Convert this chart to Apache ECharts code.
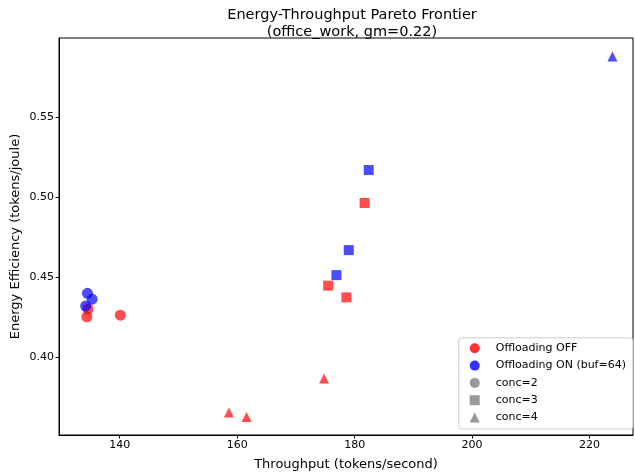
<!DOCTYPE html>
<html>
<head>
<meta charset="utf-8">
<script src="https://cdn.jsdelivr.net/npm/echarts@6/dist/echarts.min.js"></script>
<style>html,body{margin:0;padding:0;background:#fff}#c{width:635px;height:475px}</style>
</head>
<body>
<div id="c"></div>
<script>
// Data: [throughput, efficiency]
const offConc2 = [[134.4, 0.4254], [134.6, 0.4302], [140.1, 0.4264]];
const offConc3 = [[181.7, 0.4964], [175.5, 0.4448], [178.6, 0.4375]];
const offConc4 = [[174.8, 0.3869], [158.6, 0.3656], [161.6, 0.3629]];
const onConc2 = [[134.5, 0.4400], [135.3, 0.4364], [134.2, 0.4321]];
const onConc3 = [[182.4, 0.5170], [179.0, 0.4670], [176.9, 0.4514]];
const onConc4 = [[223.9, 0.5879]];
const xTicks = [140, 160, 180, 200, 220];
const yTicks = [0.40, 0.45, 0.50, 0.55];
const legendNames = ['Offloading OFF', 'Offloading ON (buf=64)', 'conc=2', 'conc=3', 'conc=4'];

const FONT = 'DejaVu Sans';
const RED = '#ff0000';
const BLUE = '#0000ff';
const SHAPES = {2: 'circle', 3: 'rect', 4: 'triangle'};
const SIZES = {2: 11, 3: 10, 4: 10};

function dataSeries(name, data, color, conc) {
  return {
    name: name, type: 'scatter', data: data,
    symbol: SHAPES[conc], symbolSize: SIZES[conc],
    itemStyle: {color: color, opacity: 0.7},
    emphasis: {disabled: true}, z: 3
  };
}
function legendSeries(name, color, shape) {
  return {name: name, type: 'scatter', data: [], symbol: shape, itemStyle: {color: color}};
}

const chart = echarts.init(document.getElementById('c'), null, {renderer: 'canvas'});
chart.setOption({
  animation: false,
  backgroundColor: '#fff',
  title: {
    text: 'Energy-Throughput Pareto Frontier\n(office_work, gm=0.22)',
    left: 347, top: 2, textAlign: 'center',
    textStyle: {fontFamily: FONT, fontSize: 14.5, fontWeight: 'normal', color: '#000', lineHeight: 16.5}
  },
  grid: {left: 59, right: 2, top: 38, bottom: 40, containLabel: false, outerBoundsMode: 'none',
    show: true, borderColor: '#000', borderWidth: 1, backgroundColor: 'transparent'},
  legend: {
    data: [
      {name: legendNames[0], icon: 'circle', itemStyle: {color: '#ff0000'}},
      {name: legendNames[1], icon: 'circle', itemStyle: {color: '#0000ff'}},
      {name: legendNames[2], icon: 'circle', itemStyle: {color: '#808080'}},
      {name: legendNames[3], icon: 'rect', itemStyle: {color: '#808080'}},
      {name: legendNames[4], icon: 'triangle', itemStyle: {color: '#808080'}}
    ],
    orient: 'vertical', right: 2, bottom: 46,
    itemWidth: 10, itemHeight: 10, itemGap: 6.3,
    padding: [5, 7, 6, 11],
    backgroundColor: 'rgba(255,255,255,0.8)', borderColor: '#cccccc', borderWidth: 1, borderRadius: 3,
    selectedMode: false,
    textStyle: {fontFamily: FONT, fontSize: 11, color: '#000', padding: [0, 0, 0, 11], lineHeight: 11}
  },
  xAxis: {
    type: 'value', min: 129.66, max: 227.4,
    name: 'Throughput (tokens/second)', nameLocation: 'middle', nameGap: 23, nameMoveOverlap: false,
    nameTextStyle: {fontFamily: FONT, fontSize: 13, color: '#000'},
    splitLine: {show: false},
    axisLine: {lineStyle: {color: '#000', width: 1}},
    axisTick: {inside: false, length: 3.5, lineStyle: {color: '#000'}, customValues: xTicks},
    axisLabel: {fontFamily: FONT, fontSize: 11, color: '#000', margin: 5, customValues: xTicks}
  },
  yAxis: {
    type: 'value', min: 0.3516, max: 0.5994,
    name: 'Energy Efficiency (tokens/joule)', nameLocation: 'middle', nameGap: 37, nameMoveOverlap: false,
    nameTextStyle: {fontFamily: FONT, fontSize: 13, color: '#000'},
    splitLine: {show: false},
    axisLine: {show: true, lineStyle: {color: '#000', width: 1}},
    axisTick: {show: true, inside: false, length: 3.5, lineStyle: {color: '#000'}, customValues: yTicks},
    axisLabel: {fontFamily: FONT, fontSize: 11, color: '#000', margin: 5, customValues: yTicks,
      formatter: v => v.toFixed(2)}
  },
  series: [
    dataSeries('off2', offConc2, RED, 2),
    dataSeries('off3', offConc3, RED, 3),
    dataSeries('off4', offConc4, RED, 4),
    dataSeries('on2', onConc2, BLUE, 2),
    dataSeries('on3', onConc3, BLUE, 3),
    dataSeries('on4', onConc4, BLUE, 4),
    legendSeries(legendNames[0], '#ff0000', 'circle'),
    legendSeries(legendNames[1], '#0000ff', 'circle'),
    legendSeries(legendNames[2], '#808080', 'circle'),
    legendSeries(legendNames[3], '#808080', 'rect'),
    legendSeries(legendNames[4], '#808080', 'triangle')
  ]
});
</script>
</body>
</html>
